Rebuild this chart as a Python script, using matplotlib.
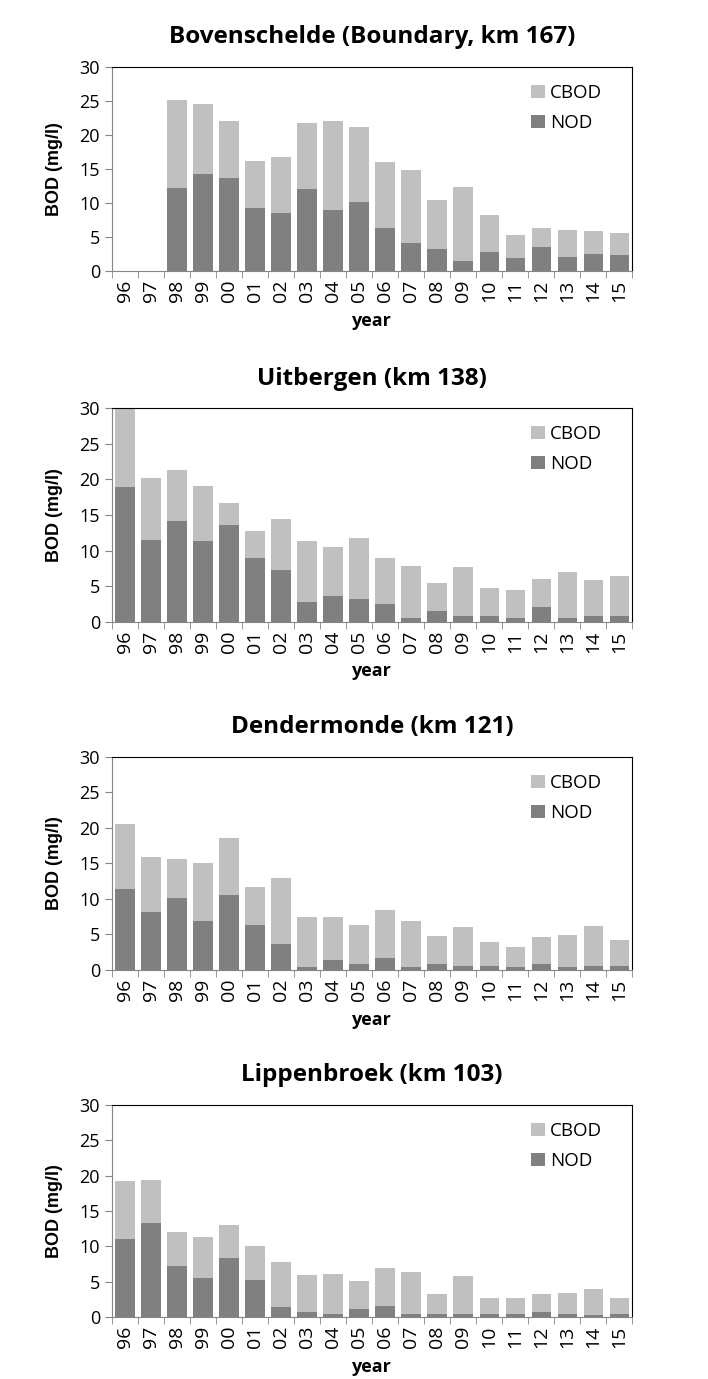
"""
BOD stacked bars (NOD + CBOD) for four Scheldt stations, 1996-2015
"""
import matplotlib
matplotlib.use('Agg')
import matplotlib.pyplot as plt
import numpy as np

years = ['96', '97', '98', '99', '00', '01', '02', '03', '04', '05',
         '06', '07', '08', '09', '10', '11', '12', '13', '14', '15']

titles = ['Bovenschelde (Boundary, km 167)', 'Uitbergen (km 138)',
          'Dendermonde (km 121)', 'Lippenbroek (km 103)']

# NOD part and total BOD (= NOD + CBOD)
bov_nod = [0, 0, 12.2, 14.3, 13.7, 9.3, 8.5, 12.1, 8.9, 10.2,
           6.3, 4.1, 3.2, 1.5, 2.8, 1.9, 3.5, 2.1, 2.5, 2.4]
bov_tot = [0, 0, 25.2, 24.5, 22.1, 16.2, 16.8, 21.7, 22.0, 21.1,
           16.0, 14.9, 10.5, 12.3, 8.2, 5.3, 6.3, 6.0, 5.9, 5.6]

uit_nod = [18.9, 11.5, 14.1, 11.3, 13.6, 9.0, 7.3, 2.8, 3.6, 3.2,
           2.5, 0.6, 1.5, 0.9, 0.8, 0.5, 2.1, 0.6, 0.9, 0.9]
uit_tot = [30.0, 20.2, 21.3, 19.1, 16.7, 12.8, 14.4, 11.4, 10.5, 11.8,
           9.0, 7.8, 5.5, 7.7, 4.8, 4.5, 6.0, 7.0, 5.9, 6.4]

den_nod = [11.4, 8.2, 10.2, 6.9, 10.5, 6.3, 3.6, 0.4, 1.4, 0.9,
           1.7, 0.4, 0.9, 0.5, 0.5, 0.4, 0.9, 0.4, 0.5, 0.5]
den_tot = [20.6, 15.9, 15.6, 15.1, 18.6, 11.7, 12.9, 7.4, 7.4, 6.4,
           8.5, 6.9, 4.8, 6.1, 3.9, 3.3, 4.6, 4.9, 6.2, 4.2]

lip_nod = [11.0, 13.3, 7.2, 5.5, 8.4, 5.2, 1.4, 0.7, 0.4, 1.1,
           1.5, 0.4, 0.4, 0.4, 0.4, 0.4, 0.7, 0.4, 0.3, 0.4]
lip_tot = [19.2, 19.4, 12.0, 11.3, 13.0, 10.1, 7.8, 5.9, 6.1, 5.1,
           6.9, 6.3, 3.3, 5.8, 2.7, 2.7, 3.3, 3.4, 3.9, 2.7]

nods = [bov_nod, uit_nod, den_nod, lip_nod]
tots = [bov_tot, uit_tot, den_tot, lip_tot]

# axes boxes in figure fractions [left, bottom, width, height]
boxes = [[0.158, 0.8035, 0.735, 0.148],
         [0.158, 0.549, 0.735, 0.155],
         [0.158, 0.2966, 0.735, 0.1545],
         [0.158, 0.045, 0.735, 0.1537]]

fnt = ['Open Sans', 'DejaVu Sans']

fig = plt.figure(figsize=(7.08, 13.79), dpi=100)

x = np.arange(len(years))
for i in range(4):
    ax = fig.add_axes(boxes[i])
    nod = np.array(nods[i])
    cbod = np.array(tots[i]) - nod
    ax.bar(x, nod, width=0.74, color='#808080', label='NOD')
    ax.bar(x, cbod, width=0.74, bottom=nod, color='#c0c0c0', label='CBOD')

    ax.set_xlim(-0.5, len(years) - 0.5)
    ax.set_ylim(0, 30)
    ax.set_yticks(range(0, 31, 5))
    ax.set_xticks(x)
    ax.set_xticklabels(years, rotation=90, family=fnt, fontsize=14)
    ax.set_xticks(np.arange(-0.5, len(years), 1), minor=True)
    ax.tick_params(axis='x', which='major', length=0, pad=6)
    ax.tick_params(axis='x', which='minor', length=5, direction='out', color='#868686')
    ax.tick_params(axis='y', length=5, direction='out', color='#868686')
    for lab in ax.get_yticklabels():
        lab.set_family(fnt)
        lab.set_fontsize(13)

    ax.spines['left'].set_color('#868686')
    ax.spines['bottom'].set_color('#868686')
    ax.spines['top'].set_color('black')
    ax.spines['right'].set_color('black')
    for s in ax.spines.values():
        s.set_linewidth(0.8)

    ax.set_title(titles[i], family=fnt, fontsize=17.5, fontweight='bold', pad=17)
    ax.set_ylabel('BOD (mg/l)', family='Liberation Sans', fontsize=13,
                  fontweight='bold', labelpad=12)
    ax.set_xlabel('year', family=fnt, fontsize=13, fontweight='bold', labelpad=7)

    h, l = ax.get_legend_handles_labels()
    leg = ax.legend(h[::-1], l[::-1], loc='upper right', frameon=False,
                    prop={'family': fnt, 'size': 13.5}, handlelength=0.7,
                    handleheight=0.7, handletextpad=0.3, labelspacing=0.65,
                    bbox_to_anchor=(0.975, 1.0))

fig.savefig('out.png', dpi=100)
